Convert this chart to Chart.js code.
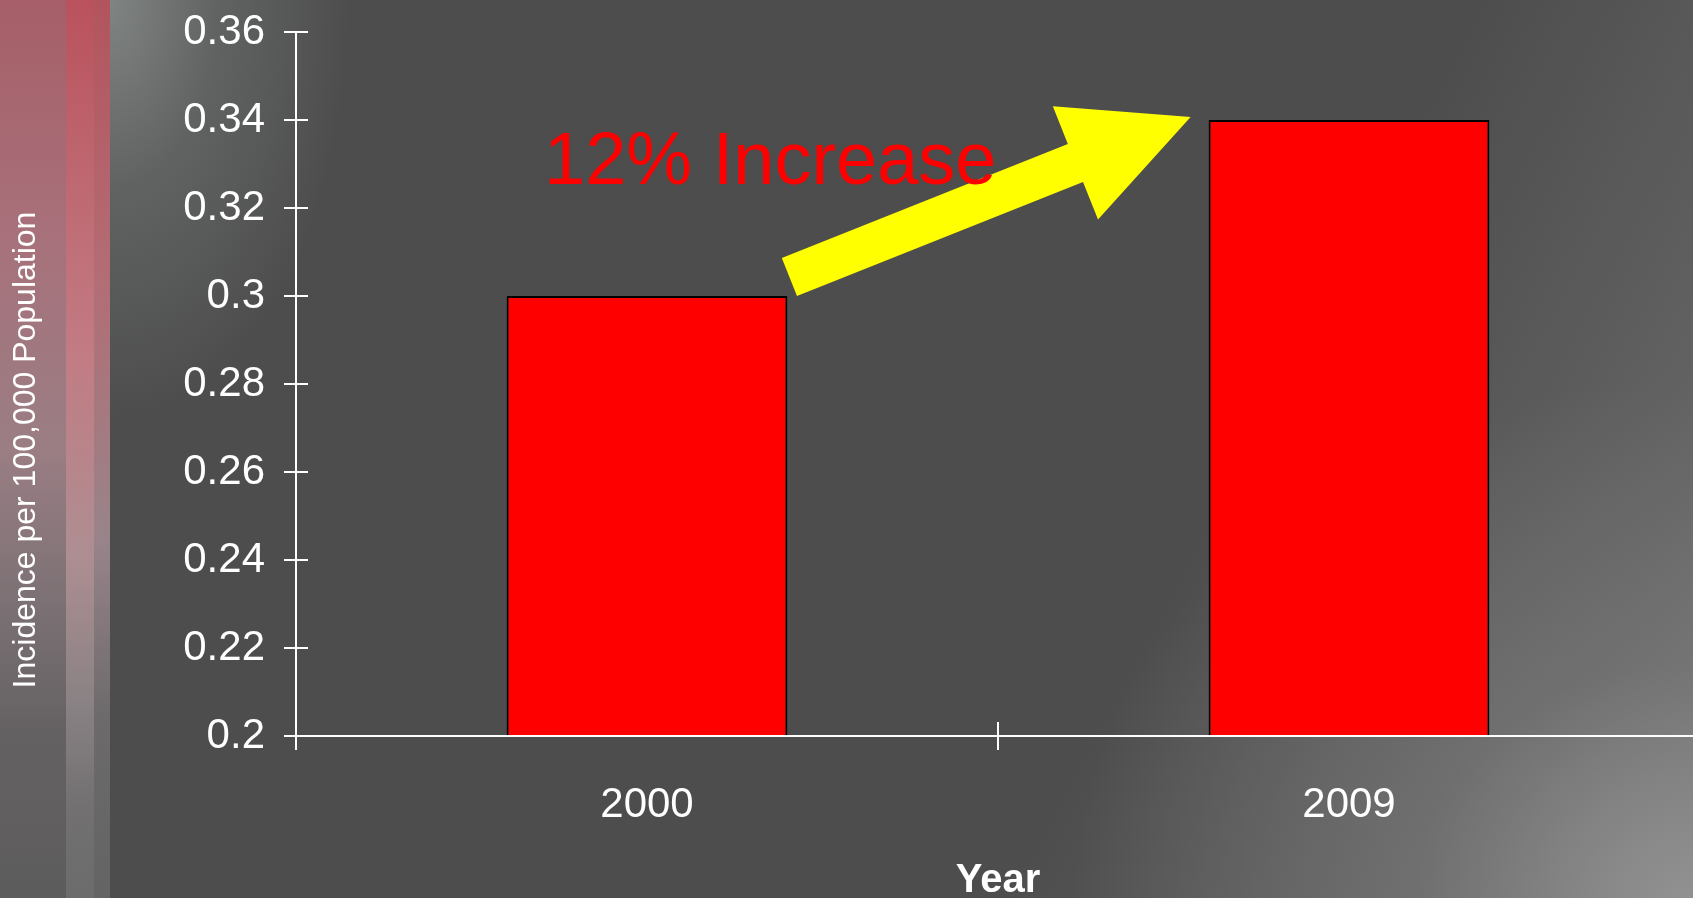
<!DOCTYPE html>
<html>
<head>
<meta charset="utf-8">
<script src="https://cdn.jsdelivr.net/npm/chart.js@4.4.1/dist/chart.umd.min.js"></script>
<style>
html, body { margin:0; padding:0; width:1693px; height:898px; overflow:hidden; background:#4c4c4c; }
#bg {
  position:absolute; left:0; top:0; width:1693px; height:898px;
  background:
    linear-gradient(to bottom, #a65f68 0%, #a8707a 25%, #9a7e84 50%, #7a7073 68%, #646162 82%, #5d5c5c 100%) 0 0 / 66px 100% no-repeat,
    linear-gradient(to bottom, #b9525c 0%, #bf6a73 22%, #c27c84 40%, #ad8e92 62%, #8a8284 78%, #727071 90%, #6c6c6c 100%) 66px 0 / 28px 100% no-repeat,
    linear-gradient(to bottom, #b2545d 0%, #b46c74 30%, #98848a 60%, #6c6a6b 80%, #646464 100%) 94px 0 / 16px 100% no-repeat,
    radial-gradient(ellipse 240px 420px at 110px 0px, rgba(128,132,130,1) 0%, rgba(105,108,107,0.7) 45%, rgba(76,76,76,0) 100%),
    radial-gradient(ellipse 620px 520px at 100% 100%, rgba(145,145,145,1) 0%, rgba(120,120,120,0.6) 45%, rgba(76,76,76,0) 100%),
    linear-gradient(118deg, rgba(76,76,76,0) 68%, rgba(120,120,120,0.55) 90%, rgba(140,140,140,0.7) 100%),
    #4d4d4d;
}
#wrap { position:absolute; left:0; top:0; width:1700px; height:898px; }
</style>
</head>
<body>
<div id="bg"></div>
<div id="wrap"><canvas id="c"></canvas></div>
<script>
// ---- data ----
const categories = ['2000', '2009'];
const incidence = [0.30, 0.34];
const yTickValues = [0.2, 0.22, 0.24, 0.26, 0.28, 0.3, 0.32, 0.34, 0.36];
const yTitle = 'Incidence per 100,000 Population';
const xTitle = 'Year';
const annotationText = '12% Increase';

const FONT = "'Liberation Sans', Arial, sans-serif";

const decor = {
  id: 'decor',
  afterDatasetsDraw(chart) {
    const ctx = chart.ctx;
    const xs = chart.scales.x, ys = chart.scales.y;
    const meta = chart.getDatasetMeta(0);
    const b0 = meta.data[0], b1 = meta.data[1];
    ctx.save();
    // crossing tick marks
    ctx.strokeStyle = '#ffffff';
    ctx.lineWidth = 2;
    const line = (x1, y1, x2, y2) => { ctx.beginPath(); ctx.moveTo(x1, y1); ctx.lineTo(x2, y2); ctx.stroke(); };
    ys.ticks.forEach((t, i) => {
      const py = ys.getPixelForTick(i);
      line(ys.right - 12, py, ys.right + 12, py);
    });
    for (let i = 0; i <= categories.length; i++) {
      const px = xs.getPixelForValue(i - 0.5);
      line(px, xs.top - 14, px, xs.top + 14);
    }
    // arrow
    const tail = { x: b0.x + b0.width / 2 + 2, y: b0.y - 19 };
    const tip = { x: b1.x - b1.width / 2 - 18, y: b1.y - 3 };
    const dx = tip.x - tail.x, dy = tip.y - tail.y;
    const L = Math.hypot(dx, dy);
    const ux = dx / L, uy = dy / L;
    const px = -uy, py = ux;
    const sw = 20.5, hw = 61, hl = 124;
    const bx = tip.x - ux * hl, by = tip.y - uy * hl;
    ctx.fillStyle = '#ffff00';
    ctx.beginPath();
    ctx.moveTo(tail.x + px * sw, tail.y + py * sw);
    ctx.lineTo(bx + px * sw, by + py * sw);
    ctx.lineTo(bx + px * hw, by + py * hw);
    ctx.lineTo(tip.x, tip.y);
    ctx.lineTo(bx - px * hw, by - py * hw);
    ctx.lineTo(bx - px * sw, by - py * sw);
    ctx.lineTo(tail.x - px * sw, tail.y - py * sw);
    ctx.closePath();
    ctx.fill();
    // annotation text
    ctx.fillStyle = '#ff0000';
    ctx.font = '74px ' + FONT;
    ctx.textAlign = 'left';
    ctx.textBaseline = 'alphabetic';
    ctx.fillText(annotationText, b0.x - 103, ys.getPixelForValue(0.3255));
    // y-axis title
    ctx.fillStyle = '#ffffff';
    ctx.font = '32px ' + FONT;
    ctx.translate(26.3, (ys.top + ys.bottom) / 2 + 66);
    ctx.rotate(-Math.PI / 2);
    ctx.textAlign = 'center';
    ctx.textBaseline = 'middle';
    ctx.fillText(yTitle, 0, 0);
    ctx.restore();
  }
};

new Chart(document.getElementById('c'), {
  type: 'bar',
  data: {
    labels: categories,
    datasets: [{
      data: incidence,
      backgroundColor: '#ff0000',
      borderColor: '#000000',
      borderWidth: 2,
      barPercentage: 0.4,
      categoryPercentage: 1.0
    }]
  },
  options: {
    responsive: true,
    maintainAspectRatio: false,
    devicePixelRatio: 1,
    animation: false,
    layout: { padding: { top: 0, left: 0, right: 0, bottom: 0 } },
    plugins: { legend: { display: false }, tooltip: { enabled: false } },
    scales: {
      x: {
        afterFit: (s) => { s.height = 162; },
        grid: { display: true, drawOnChartArea: false, drawTicks: false, color: 'rgba(0,0,0,0)' },
        border: { display: true, color: '#ffffff', width: 2, z: 1 },
        ticks: { color: '#ffffff', font: { family: FONT, size: 42 }, padding: 44 },
        title: {
          display: true, text: xTitle, color: '#ffffff',
          font: { family: FONT, size: 40, weight: 'bold', lineHeight: 0.8 },
          padding: { top: 0, bottom: 1 }
        }
      },
      y: {
        min: 0.2, max: 0.36,
        afterFit: (s) => { s.width = 296; s.paddingTop = 32; s.paddingBottom = 30; },
        afterBuildTicks: (s) => { s.ticks = yTickValues.map(v => ({ value: v })); },
        grid: { display: true, drawOnChartArea: false, drawTicks: false, color: 'rgba(0,0,0,0)' },
        border: { display: true, color: '#ffffff', width: 2, z: 1 },
        ticks: {
          color: '#ffffff', font: { family: FONT, size: 42 }, padding: 31,
          callback: (v) => String(Number(Number(v).toFixed(2)))
        }
      }
    }
  },
  plugins: [decor]
});
</script>
</body>
</html>
